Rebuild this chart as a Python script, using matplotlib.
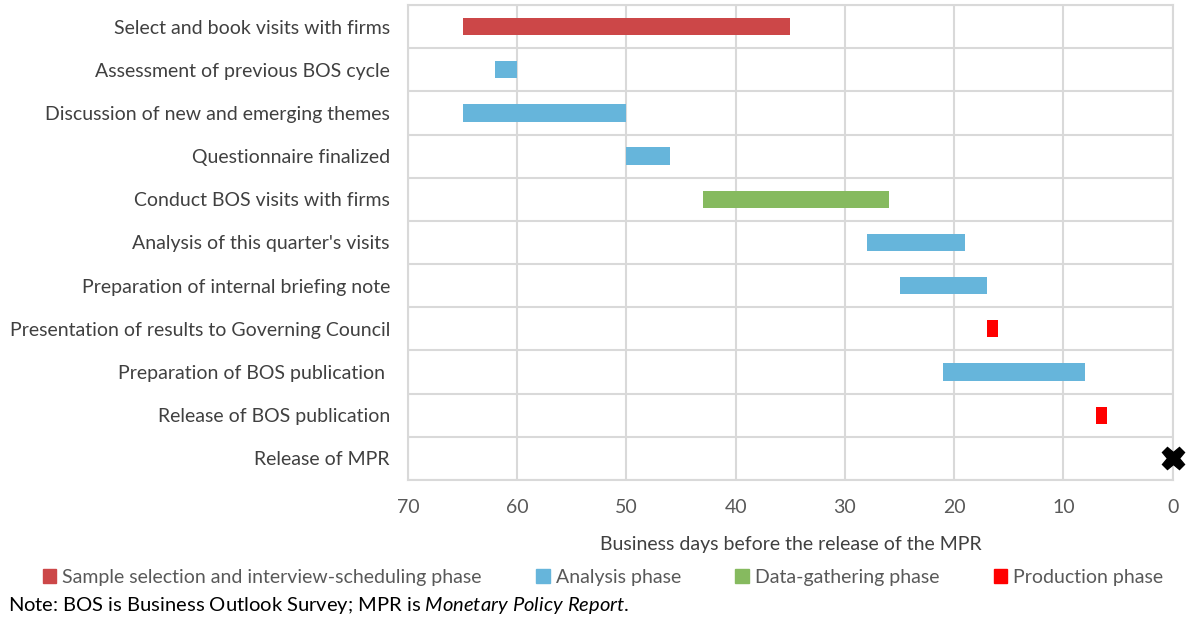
import matplotlib
matplotlib.use("Agg")
import matplotlib.pyplot as plt
from matplotlib.patches import Patch

plt.rcParams['font.family'] = ['Lato', 'DejaVu Sans']
plt.rcParams['mathtext.fontset'] = 'custom'
plt.rcParams['mathtext.it'] = 'Lato:italic'
plt.rcParams['mathtext.rm'] = 'Lato'

tasks = [
    "Select and book visits with firms",
    "Assessment of previous BOS cycle",
    "Discussion of new and emerging themes",
    "Questionnaire finalized",
    "Conduct BOS visits with firms",
    "Analysis of this quarter's visits",
    "Preparation of internal briefing note",
    "Presentation of results to Governing Council",
    "Preparation of BOS publication ",
    "Release of BOS publication",
    "Release of MPR",
]
start_days = [65, 62, 65, 50, 43, 28, 25, 17, 21, 7]
end_days = [35, 60, 50, 46, 26, 19, 17, 16, 8, 6]
phases = ["sample", "analysis", "analysis", "analysis", "data", "analysis",
          "analysis", "production", "analysis", "production"]
mpr_day = 0

phase_names = {
    "sample": "Sample selection and interview-scheduling phase",
    "analysis": "Analysis phase",
    "data": "Data-gathering phase",
    "production": "Production phase",
}
phase_colors = {
    "sample": "#CC4748",
    "analysis": "#66B5DB",
    "data": "#86BA5F",
    "production": "#FF0000",
}
x_ticks = [70, 60, 50, 40, 30, 20, 10, 0]

fig = plt.figure(figsize=(11.88, 6.2), dpi=100)
ax = fig.add_axes([408/1188, 1-480/620, (1172.7-408)/1188, (480-5)/620])

n = len(tasks)
ypos = list(range(n))
for i in range(len(start_days)):
    ax.barh(ypos[i], start_days[i]-end_days[i], left=end_days[i], height=0.4,
            color=phase_colors[phases[i]], zorder=3)
ax.plot([mpr_day], [ypos[-1]], marker='X', color='black', markersize=16,
        clip_on=False, zorder=5, linestyle='none')

ax.set_xlim(70, 0)
ax.set_ylim(n-0.5, -0.5)
ax.set_xticks(x_ticks)
ax.set_xticklabels([str(t) for t in x_ticks], fontsize=14, color='#595959')
ax.set_yticks(ypos)
ax.set_yticklabels(tasks, fontsize=14, color='#404040')
ax.set_yticks([i+0.5 for i in range(-1, n)], minor=True)
ax.tick_params(axis='both', which='both', length=0)
ax.tick_params(axis='y', pad=13)
ax.tick_params(axis='x', pad=14)
ax.grid(axis='x', which='major', color='#D9D9D9', linewidth=1.5, zorder=0)
ax.grid(axis='y', which='minor', color='#D9D9D9', linewidth=1.5, zorder=0)
for s in ax.spines.values():
    s.set_color('#D9D9D9')
    s.set_linewidth(1.5)
ax.set_xlabel("Business days before the release of the MPR", fontsize=14,
              color='#404040', labelpad=14)

handles = [Patch(color=phase_colors[k]) for k in ["sample", "analysis", "data", "production"]]
labels = [phase_names[k] for k in ["sample", "analysis", "data", "production"]]
fig.legend(handles, labels, loc='center', bbox_to_anchor=(603/1188, 1-577/620), ncol=4,
           frameon=False, fontsize=14, handlelength=0.7, handleheight=0.7,
           handletextpad=0.3, columnspacing=2.8, labelcolor='#595959')

fig.text(8/1188, 1-606/620,
         "Note: BOS is Business Outlook Survey; MPR is $\\it{Monetary\\ Policy\\ Report}$.",
         fontsize=14.5, va='center', ha='left', color='black')

fig.savefig("out.png", dpi=100)
